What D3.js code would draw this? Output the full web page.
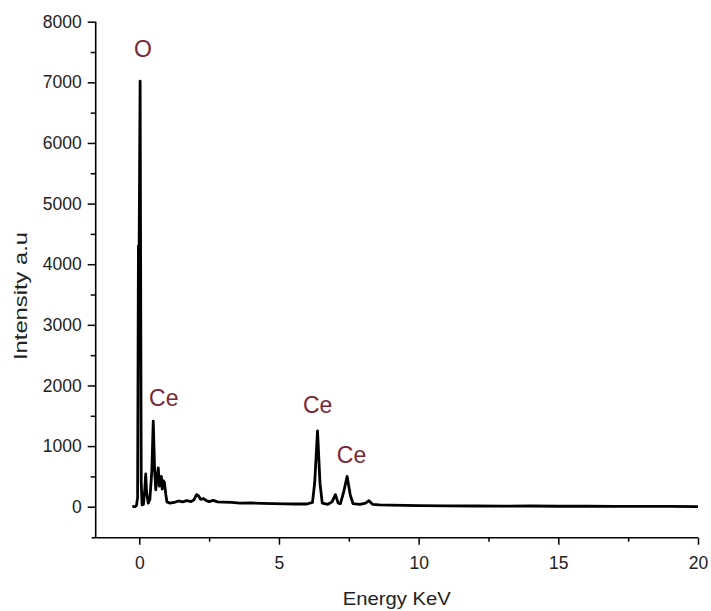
<!DOCTYPE html>
<html>
<head>
<meta charset="utf-8">
<script src="https://cdn.jsdelivr.net/npm/d3@7/dist/d3.min.js"></script>
<style>
  body { margin: 0; background: #fff; }
  text { font-family: "Liberation Sans", Arial, sans-serif; }
</style>
</head>
<body>
<div id="chart"></div>
<script>
// EDS spectrum, points (keV, counts)
const energy = [
  -0.25, -0.15, -0.1, -0.06, -0.03, -0.01, 0.03, 0.07, 0.1, 0.15,
  0.2, 0.23, 0.26, 0.32, 0.38, 0.45, 0.5, 0.55, 0.59, 0.64,
  0.68, 0.72, 0.76, 0.79, 0.82, 0.86, 0.9, 0.95, 0.99, 1.1,
  1.25, 1.4, 1.55, 1.7, 1.85, 1.95, 2.05, 2.12, 2.2, 2.3,
  2.4, 2.5, 2.65, 2.8, 3.0, 3.3, 3.6, 4.0, 4.4, 4.8,
  5.2, 5.6, 6.0, 6.2, 6.28, 6.38, 6.47, 6.55, 6.75, 6.9,
  7.02, 7.12, 7.2, 7.32, 7.44, 7.55, 7.65, 7.9, 8.1, 8.22,
  8.35, 8.6, 9.0, 9.5, 10, 11, 12, 13, 14, 15,
  16, 17, 18, 19, 20
];
const intensity = [
  5, 0, 20, 150, 4300, 3900, 7020, 400, 30, 40,
  300, 540, 250, 60, 120, 600, 1410, 600, 280, 500,
  640, 340, 480, 500, 290, 430, 400, 200, 80, 60,
  70, 95, 80, 100, 85, 110, 200, 180, 120, 135,
  100, 85, 105, 80, 75, 70, 60, 62, 55, 50,
  48, 45, 45, 70, 400, 1250, 380, 60, 40, 80,
  200, 60, 50, 250, 500, 200, 50, 40, 60, 100,
  40, 30, 25, 22, 18, 15, 12, 10, 12, 8,
  8, 6, 5, 5, 3
];

const xTicks = [0, 5, 10, 15, 20];
const xMinor = [2.5, 7.5, 12.5, 17.5];
const yTicks = [0, 1000, 2000, 3000, 4000, 5000, 6000, 7000, 8000];
const yMinor = [500, 1500, 2500, 3500, 4500, 5500, 6500, 7500];

// peak labels
const peakNames = ["O", "Ce", "Ce", "Ce"];
const peakEnergy = [0.13, 0.35, 5.86, 7.07];
const peakLevel = [7420, 1660, 1545, 720];
const peakAnchor = ["middle", "start", "start", "start"];

const width = 711, height = 611;
const plot = { left: 95.7, right: 698, top: 21.7, bottom: 537.7 };

const svg = d3.select("#chart").append("svg")
    .attr("width", width)
    .attr("height", height);

const x = d3.scaleLinear().domain([-1.56, 20]).range([plot.left, plot.right]);
const y = d3.scaleLinear().domain([-511, 8000]).range([plot.bottom, plot.top]);

// x axis
const xAxis = svg.append("g")
    .attr("transform", "translate(0," + plot.bottom + ")")
    .call(d3.axisBottom(x).tickValues(xTicks).tickFormat(d3.format("d"))
        .tickSize(7).tickPadding(12).tickSizeOuter(0));
xAxis.select(".domain").remove();
svg.append("g")
    .attr("transform", "translate(0," + plot.bottom + ")")
    .call(d3.axisBottom(x).tickValues(xMinor).tickSize(4).tickFormat(""))
    .select(".domain").remove();
svg.append("line")
    .attr("x1", plot.left - 4).attr("x2", plot.right)
    .attr("y1", plot.bottom).attr("y2", plot.bottom)
    .attr("stroke", "#000").attr("stroke-width", 1.6);

// y axis
const yAxis = svg.append("g")
    .attr("transform", "translate(" + plot.left + ",0)")
    .call(d3.axisLeft(y).tickValues(yTicks).tickFormat(d3.format("d"))
        .tickSize(8).tickPadding(6).tickSizeOuter(0));
yAxis.select(".domain").remove();
svg.append("g")
    .attr("transform", "translate(" + plot.left + ",0)")
    .call(d3.axisLeft(y).tickValues(yMinor).tickSize(5).tickFormat(""))
    .select(".domain").remove();
svg.append("line")
    .attr("x1", plot.left).attr("x2", plot.left)
    .attr("y1", y(8000)).attr("y2", plot.bottom)
    .attr("stroke", "#000").attr("stroke-width", 1.6);

svg.selectAll(".tick line").attr("stroke", "#000").attr("stroke-width", 1.5);
svg.selectAll(".tick text")
    .style("font-family", "Liberation Sans, Arial, sans-serif")
    .style("font-size", "17.5px")
    .attr("fill", "#222");

// spectrum line
const points = energy.map((e, i) => ({ e: e, v: intensity[i] }));
svg.append("path")
    .datum(points)
    .attr("fill", "none")
    .attr("stroke", "#000")
    .attr("stroke-width", 2.8)
    .attr("stroke-linejoin", "round")
    .attr("d", d3.line().x(d => x(d.e)).y(d => y(d.v)));

// peak labels
svg.selectAll(".peak")
    .data(peakNames)
    .enter().append("text")
    .attr("class", "peak")
    .attr("x", (d, i) => x(peakEnergy[i]))
    .attr("y", (d, i) => y(peakLevel[i]))
    .attr("text-anchor", (d, i) => peakAnchor[i])
    .style("font-size", "23px")
    .attr("fill", "#7a2636")
    .text(d => d);

// axis titles
svg.append("text")
    .attr("x", (plot.left + plot.right) / 2)
    .attr("y", 605)
    .attr("text-anchor", "middle")
    .attr("textLength", 108)
    .attr("lengthAdjust", "spacingAndGlyphs")
    .style("font-size", "19px")
    .attr("fill", "#222")
    .text("Energy KeV");

svg.append("text")
    .attr("transform", "translate(27,296) rotate(-90)")
    .attr("text-anchor", "middle")
    .attr("textLength", 128)
    .attr("lengthAdjust", "spacingAndGlyphs")
    .style("font-size", "19px")
    .attr("fill", "#222")
    .text("Intensity a.u");
</script>
</body>
</html>
